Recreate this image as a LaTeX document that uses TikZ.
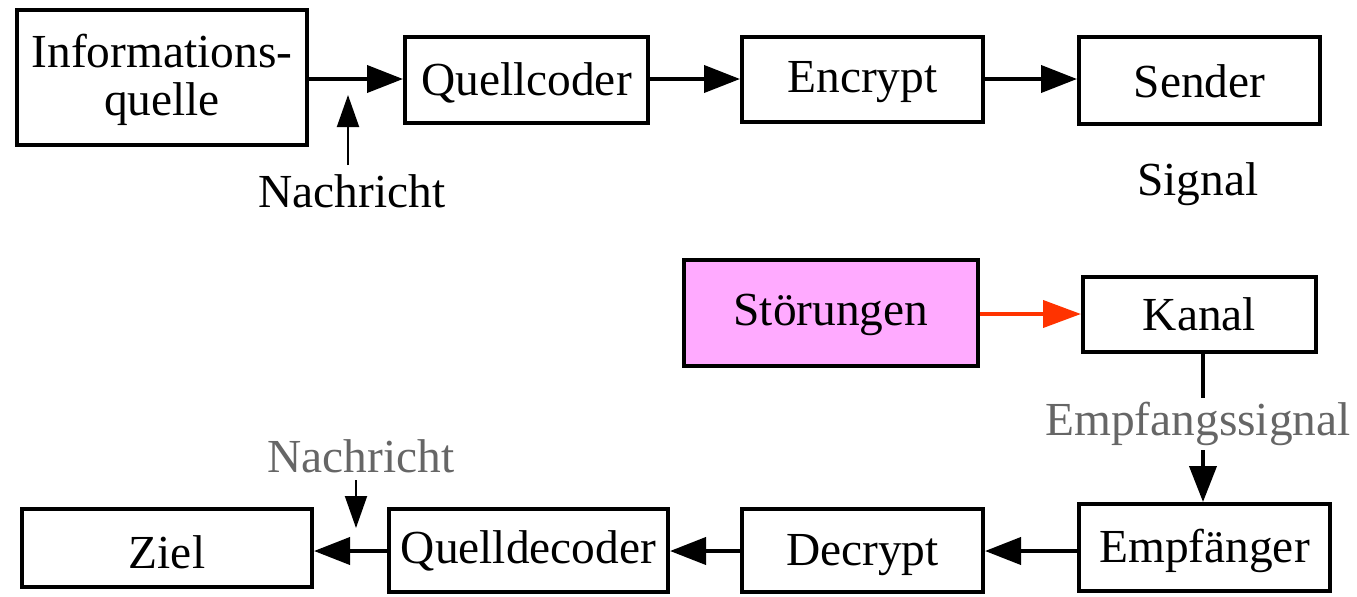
\documentclass[tikz,border=0pt]{standalone}
\usepackage{fontspec}
\setmainfont{Liberation Serif}
\usetikzlibrary{arrows.meta}
\definecolor{pinkfill}{HTML}{FFAAFF}
\definecolor{noisered}{HTML}{FF3300}
\definecolor{labelgray}{HTML}{666666}
\tikzset{
  blk/.style={draw=black, line width=2pt, inner sep=0pt, align=center},
  % baseline of the (last) text line, in pt below the box centre times two
  bl/.style={text height=#1pt, text depth=0pt},
  lbl/.style={inner sep=0pt, anchor=base},
  flow/.style={line width=2pt, -{Triangle[length=18pt,width=13.5pt]}},
  thinflow/.style={line width=1pt, -{Triangle[length=16pt,width=11pt]}},
  noise/.style={draw=noisered, line width=2pt, -{Triangle[length=19pt,width=13.5pt]}},
}
\begin{document}
\begin{tikzpicture}[x=0.5pt, y=-0.5pt, font=\fontsize{23.7pt}{24pt}\selectfont]
\useasboundingbox (0,0) rectangle (1357,596);

% transmitter chain
\node[blk, bl=37.5, minimum width=145pt, minimum height=67.5pt] (infq) at (162,77.5) {Informations-\\quelle};
\node[blk, bl=15, minimum width=121.5pt, minimum height=43pt] (qc) at (526.5,80) {Quellcoder};
\node[blk, bl=12.5, minimum width=120.5pt, minimum height=42.5pt] (enc) at (862.5,79.5) {Encrypt};
\node[blk, bl=16.5, minimum width=120.5pt, minimum height=43.5pt] (snd) at (1199.5,80.5) {Sender};
\node[lbl] (sig) at (1198,195) {Signal};
\node[lbl] (msg1) at (352,207) {Nachricht};
\coordinate (msg1tip) at (348,95);
\coordinate (msg1foot) at (348,165);

% channel
\node[blk, bl=12, fill=pinkfill, minimum width=147pt, minimum height=53pt] (noisebox) at (831,313) {Störungen};
\node[blk, bl=15.5, minimum width=116.5pt, minimum height=37.5pt] (kanal) at (1199.5,314.5) {Kanal};
\node[lbl, text=labelgray] (rxsig) at (1198,435) {Empfangssignal};
\coordinate (rxtop) at (1203,398);
\coordinate (rxfoot) at (1203,450);

% receiver chain
\node[blk, bl=14.5, minimum width=125.5pt, minimum height=43.5pt] (empf) at (1204.5,547.5) {Empfänger};
\node[blk, bl=14.5, minimum width=120.5pt, minimum height=41.5pt] (dec) at (862.5,550.5) {Decrypt};
\node[blk, bl=12.5, minimum width=139.5pt, minimum height=41.5pt] (qd) at (528.5,550.5) {Quelldecoder};
\node[blk, bl=20, minimum width=145pt, minimum height=39pt] (ziel) at (167,548) {Ziel};
\node[lbl, text=labelgray] (msg2) at (361,472) {Nachricht};
\coordinate (msg2foot) at (356,480);
\coordinate (msg2tip) at (356,528);

% connectors, top row
\draw[flow] (infq.east |- 0,79) -- (qc.west |- 0,79);
\draw[flow] (qc.east |- 0,79) -- (enc.west |- 0,79);
\draw[flow] (enc.east |- 0,79) -- (snd.west |- 0,79);
\draw[thinflow] (msg1foot) -- (msg1tip);

% connectors, channel
\draw[noise] (noisebox.east |- 0,314) -- (kanal.west |- 0,314);
\draw[line width=2pt] (kanal.south -| rxtop) -- (rxtop);
\draw[flow] (rxfoot) -- (empf.north -| rxfoot);

% connectors, bottom row
\draw[flow] (empf.west |- 0,551) -- (dec.east |- 0,551);
\draw[flow] (dec.west |- 0,551) -- (qd.east |- 0,551);
\draw[flow] (qd.west |- 0,551) -- (ziel.east |- 0,551);
\draw[thinflow] (msg2foot) -- (msg2tip);
\end{tikzpicture}
\end{document}
